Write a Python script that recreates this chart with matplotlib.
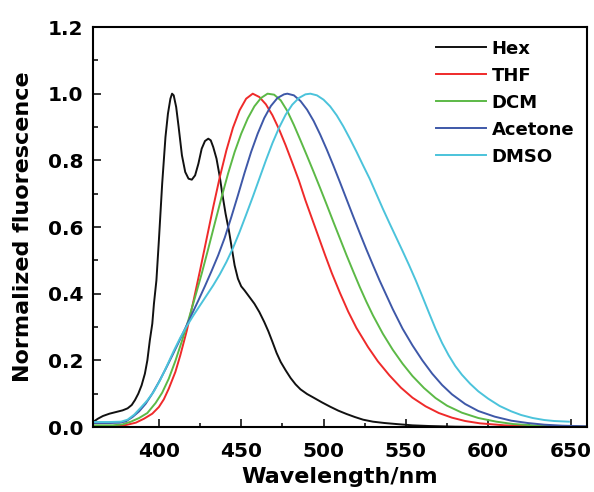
import matplotlib
matplotlib.use("Agg")
import matplotlib.pyplot as plt
from matplotlib.ticker import FixedLocator, MultipleLocator

# emission spectra, normalized; wavelengths in nm
hex_wl = [360, 363, 366, 370, 374, 378, 381, 383.5, 385.5, 387.5, 389.5, 391.5, 393, 394.5,
          396, 397, 398.5, 400, 402, 404, 405.5, 407, 408, 409, 410.5, 412, 414, 416, 418,
          420, 422, 424, 426, 428, 430, 431.5, 433, 435, 437, 438.5, 440.5, 442.5, 444, 446,
          448, 450, 452, 455, 458, 461, 464, 466.5, 469, 471.5, 474, 477, 480, 483, 486, 490,
          494, 499, 504, 509, 514, 519, 524, 530, 537, 544, 554, 564, 580, 600, 660]
hex_i = [0.015, 0.025, 0.033, 0.04, 0.045, 0.05, 0.056, 0.066, 0.081, 0.1, 0.125, 0.16, 0.2,
         0.26, 0.31, 0.37, 0.44, 0.56, 0.73, 0.87, 0.94, 0.985, 1.0, 0.995, 0.96, 0.9, 0.815,
         0.765, 0.745, 0.742, 0.755, 0.79, 0.835, 0.858, 0.865, 0.86, 0.84, 0.805, 0.75, 0.70,
         0.64, 0.59, 0.545, 0.485, 0.445, 0.422, 0.41, 0.39, 0.37, 0.345, 0.315, 0.287, 0.255,
         0.222, 0.195, 0.17, 0.147, 0.128, 0.113, 0.099, 0.088, 0.074, 0.061, 0.049, 0.039,
         0.03, 0.022, 0.016, 0.012, 0.009, 0.005, 0.003, 0.001, 0.0, 0.0]

thf_wl = [360, 372, 380, 386, 391, 396, 400, 403, 406, 410, 413, 417, 421, 425, 429, 433, 437,
          441, 445, 449, 453, 457, 461, 465, 469, 473, 477, 481, 485, 489, 493, 497, 501, 505,
          510, 515, 520, 527, 533, 540, 547, 554, 562, 570, 578, 586, 595, 610, 630, 660]
thf_i = [0.003, 0.003, 0.006, 0.013, 0.025, 0.04, 0.06, 0.083, 0.115, 0.165, 0.215, 0.29,
         0.378, 0.47, 0.565, 0.66, 0.75, 0.83, 0.898, 0.95, 0.985, 1.0, 0.99, 0.968, 0.935,
         0.893, 0.845, 0.793, 0.74, 0.68, 0.625, 0.57, 0.515, 0.462, 0.402, 0.346, 0.297,
         0.24, 0.197, 0.155, 0.118, 0.088, 0.062, 0.042, 0.028, 0.018, 0.011, 0.005, 0.002,
         0.001]

dcm_wl = [360, 372, 378, 383, 388, 393, 398, 402, 406, 410, 414, 418, 422, 426, 430, 434, 438,
          442, 446, 450, 454, 458, 462, 466, 470, 474, 478, 482, 486, 490, 494, 498, 502, 506,
          510, 514, 518, 522, 526, 530, 536, 542, 548, 554, 561, 568, 575, 584, 594, 605, 615,
          630, 645, 660]
dcm_i = [0.005, 0.005, 0.008, 0.016, 0.027, 0.042, 0.072, 0.103, 0.145, 0.198, 0.258, 0.322,
         0.39, 0.46, 0.535, 0.612, 0.688, 0.76, 0.825, 0.88, 0.926, 0.962, 0.987, 1.0, 0.997,
         0.98, 0.948, 0.906, 0.86, 0.813, 0.765, 0.716, 0.666, 0.615, 0.565, 0.515, 0.467,
         0.42, 0.376, 0.335, 0.28, 0.232, 0.19, 0.153, 0.117, 0.087, 0.064, 0.043, 0.027,
         0.016, 0.009, 0.004, 0.002, 0.001]

ace_wl = [360, 370, 376, 380, 384, 388, 392, 396, 400, 404, 408, 412, 416, 420, 424, 428, 432,
          436, 440, 444, 448, 452, 456, 460, 464, 468, 472, 476, 478, 482, 486, 490, 494, 498,
          502, 506, 510, 514, 518, 522, 526, 530, 534, 538, 542, 548, 554, 560, 566, 572, 578,
          586, 594, 604, 614, 624, 634, 645, 660]
ace_i = [0.012, 0.012, 0.013, 0.017, 0.03, 0.047, 0.07, 0.1, 0.135, 0.173, 0.213, 0.254,
         0.296, 0.338, 0.38, 0.423, 0.468, 0.515, 0.568, 0.63, 0.695, 0.762, 0.825, 0.88,
         0.927, 0.963, 0.987, 0.998, 1.0, 0.995, 0.978, 0.952, 0.918, 0.877, 0.832, 0.784,
         0.734, 0.683, 0.632, 0.582, 0.533, 0.486, 0.44, 0.397, 0.354, 0.295, 0.245, 0.2,
         0.16, 0.126, 0.098, 0.069, 0.048, 0.031, 0.019, 0.012, 0.007, 0.004, 0.002]

dmso_wl = [360, 370, 377, 381, 385, 389, 393, 397, 401, 405, 409, 413, 417, 421, 425, 429, 433,
           437, 441, 445, 449, 453, 457, 461, 465, 469, 473, 477, 481, 485, 489, 492, 496, 500,
           504, 508, 512, 516, 520, 524, 528, 532, 536, 540, 544, 548, 552, 556, 560, 564, 568,
           572, 576, 580, 584, 589, 594, 600, 607, 614, 620, 627, 634, 640, 649]
dmso_i = [0.015, 0.015, 0.016, 0.022, 0.037, 0.058, 0.08, 0.107, 0.143, 0.185, 0.228, 0.268,
          0.303, 0.335, 0.365, 0.395, 0.425, 0.458, 0.495, 0.537, 0.585, 0.637, 0.69, 0.745,
          0.8, 0.852, 0.898, 0.937, 0.967, 0.987, 0.998, 1.0, 0.995, 0.982, 0.962, 0.935,
          0.902, 0.865, 0.826, 0.785, 0.745, 0.70, 0.655, 0.612, 0.57, 0.528, 0.485, 0.44,
          0.392, 0.343, 0.295, 0.252, 0.215, 0.183, 0.157, 0.13, 0.107, 0.085, 0.063, 0.047,
          0.036, 0.027, 0.021, 0.018, 0.016]

solvents = ["Hex", "THF", "DCM", "Acetone", "DMSO"]
colors = ["#111111", "#ef2a2a", "#5cb946", "#3e58a8", "#4bc3db"]

fig = plt.figure(figsize=(5.94, 4.92), dpi=100)
ax = fig.add_axes([0.1566, 0.1321, 0.8316, 0.813])

series = [(hex_wl, hex_i), (thf_wl, thf_i), (dcm_wl, dcm_i), (ace_wl, ace_i), (dmso_wl, dmso_i)]
for (wl, inten), name, c in zip(series, solvents, colors):
    ax.plot(wl, inten, color=c, lw=1.4, label=name)

ax.set_xlim(360, 660)
ax.set_ylim(0, 1.2)
ax.xaxis.set_major_locator(MultipleLocator(50))
ax.xaxis.set_minor_locator(FixedLocator([425, 475, 525, 575, 625]))
ax.yaxis.set_major_locator(MultipleLocator(0.2))
ax.yaxis.set_minor_locator(MultipleLocator(0.1))
ax.yaxis.set_major_formatter(plt.FormatStrFormatter("%.1f"))

for s in ax.spines.values():
    s.set_linewidth(1.5)
ax.tick_params(which="both", direction="in", top=False, right=False, width=1.1)
ax.tick_params(which="major", length=5.5, labelsize=14.5, pad=7)
ax.tick_params(axis="x", which="major", pad=11)
ax.tick_params(axis="x", which="minor", length=2.8)
ax.tick_params(axis="y", which="minor", length=3.6)
for lab in ax.get_xticklabels() + ax.get_yticklabels():
    lab.set_fontweight("bold")

ax.set_xlabel("Wavelength/nm", fontsize=16, fontweight="bold", labelpad=4)
ax.set_ylabel("Normalized fluorescence", fontsize=16, fontweight="bold", labelpad=11)

leg = ax.legend(loc="upper right", bbox_to_anchor=(1.0, 1.0), frameon=False,
                prop={"size": 13, "weight": "bold"}, handlelength=2.8,
                handletextpad=0.3, labelspacing=0.5, borderaxespad=0.3)

fig.savefig("out.png", dpi=100)
